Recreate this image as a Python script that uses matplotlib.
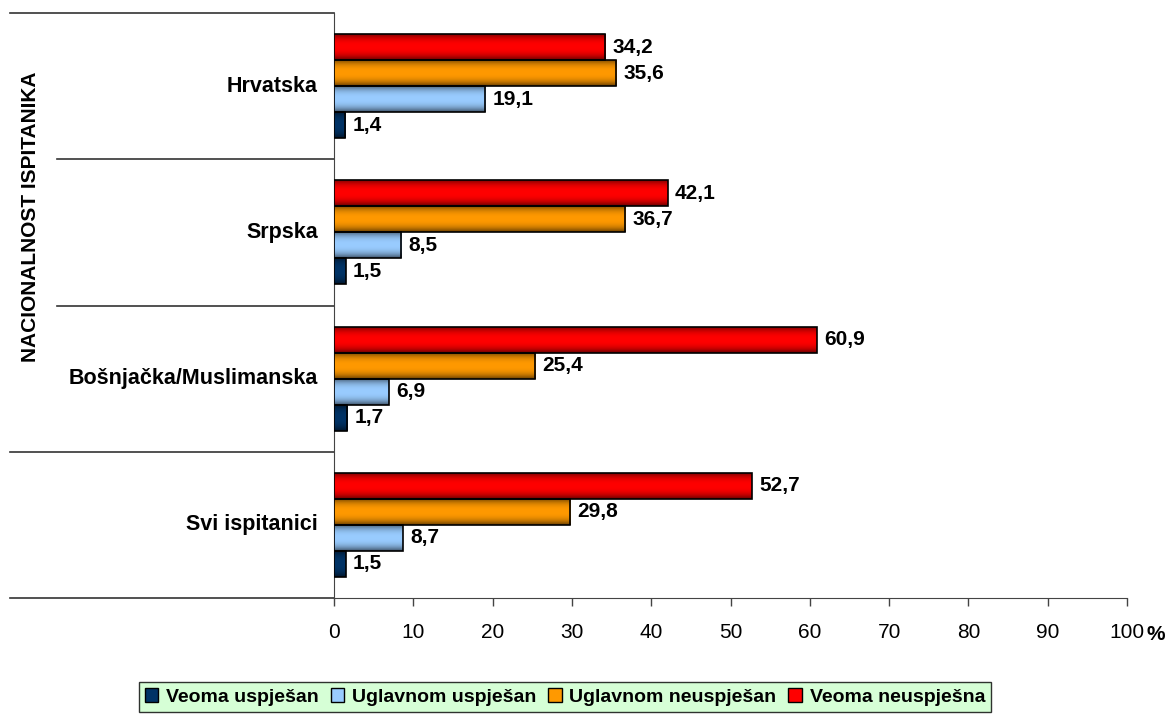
import numpy as np
import matplotlib
matplotlib.use('Agg')
import matplotlib.pyplot as plt
from matplotlib.patches import Patch
from matplotlib.transforms import blended_transform_factory

plt.rcParams['font.family'] = ['Liberation Sans', 'DejaVu Sans']

categories = ['Hrvatska', 'Srpska', 'Bošnjačka/Muslimanska', 'Svi ispitanici']
series_names = ['Veoma uspješan', 'Uglavnom uspješan', 'Uglavnom neuspješan', 'Veoma neuspješna']
veoma_uspjesan = [1.4, 1.5, 1.7, 1.5]
uglavnom_uspjesan = [19.1, 8.5, 6.9, 8.7]
uglavnom_neuspjesan = [35.6, 36.7, 25.4, 29.8]
veoma_neuspjesna = [34.2, 42.1, 60.9, 52.7]
series = [veoma_uspjesan, uglavnom_uspjesan, uglavnom_neuspjesan, veoma_neuspjesna]
colors = ['#003366', '#99CCFF', '#FF9900', '#FF0000']
xticks = [0, 10, 20, 30, 40, 50, 60, 70, 80, 90, 100]

fig = plt.figure(figsize=(11.68, 7.17), dpi=100)
W, H = 1168, 717
ax = fig.add_axes([334 / W, 1 - 598 / H, 793 / W, 585 / H])

ypos = np.arange(len(categories))[::-1]  # Hrvatska on top
h = 0.178
offsets = [-1.5 * h, -0.5 * h, 0.5 * h, 1.5 * h]

# vertical shading like the old Excel gradient bars
t = np.linspace(0, 1, 64)
shade = 1 - 0.6 * np.abs(2 * t - 1) ** 2.5

for vals, col, off in zip(series, colors, offsets):
    bars = ax.barh(ypos + off, vals, height=h, facecolor='none',
                   edgecolor='black', linewidth=1.2, zorder=4)
    rgb = np.array(matplotlib.colors.to_rgb(col))
    img = (shade[:, None] * rgb[None, :])[:, None, :]
    for b in bars:
        x0, y0, bw, bh = b.get_x(), b.get_y(), b.get_width(), b.get_height()
        im = ax.imshow(img, extent=[x0, x0 + bw, y0, y0 + bh], aspect='auto',
                       interpolation='bilinear', zorder=3)
        im.set_clip_path(b)
        ax.text(x0 + bw + 0.9, y0 + bh / 2, f'{bw:.1f}'.replace('.', ','),
                va='center', ha='left', fontsize=15, fontweight='bold', zorder=5)

ax.set_xlim(0, 100)
ax.set_ylim(-0.5, len(categories) - 0.5)
ax.set_xticks(xticks)
ax.set_xticklabels([str(v) for v in xticks], fontsize=15)
ax.tick_params(axis='x', direction='out', length=6, width=1, color='#444444', pad=12)
ax.set_yticks([])
for s in ['top', 'right']:
    ax.spines[s].set_visible(False)
ax.spines['left'].set_color('#444444')
ax.spines['bottom'].set_color('#444444')

# "%" next to the 100 tick label
ax.annotate('%', xy=(1.0, 0.0), xycoords='axes fraction', xytext=(14, -26),
            textcoords='offset points', fontsize=15, fontweight='bold',
            ha='left', va='center', annotation_clip=False)

# table-like category lines on the left
tr = blended_transform_factory(fig.transFigure, ax.transData)
boundaries = [3.5, 2.5, 1.5, 0.5, -0.5]
starts = [10, 57, 57, 10, 10]
for yb, xs in zip(boundaries, starts):
    ax.plot([xs / W, 334 / W], [yb, yb], transform=tr, color='#333333',
            linewidth=1.2, clip_on=False)

# category labels
for y, name in zip(ypos, categories):
    ax.text(318 / W, y, name, transform=tr, ha='right', va='center',
            fontsize=15.5, fontweight='bold')

fig.text(31 / W, 1 - 217 / H, 'NACIONALNOST ISPITANIKA', rotation=90,
         ha='center', va='center', fontsize=15, fontweight='bold')

handles = [Patch(facecolor=c, edgecolor='black') for c in colors]
leg = fig.legend(handles, series_names, loc='center', bbox_to_anchor=(565 / W, 1 - 697 / H),
                 ncol=4, frameon=True, fancybox=False, prop={'weight': 'bold', 'size': 14},
                 handlelength=0.7, handleheight=0.7, handletextpad=0.4,
                 columnspacing=0.6, borderpad=0.3, borderaxespad=0)
leg.get_frame().set_facecolor('#CCFFCC')
leg.get_frame().set_edgecolor('black')
leg.get_frame().set_linewidth(1)

fig.savefig('out.png', dpi=100)
